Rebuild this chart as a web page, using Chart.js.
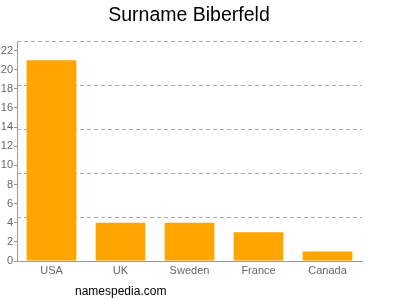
<!DOCTYPE html>
<html>
<head>
<meta charset="utf-8">
<script src="https://cdn.jsdelivr.net/npm/chart.js@4"></script>
<style>
  html, body { margin: 0; padding: 0; background: #fff; }
  #wrap { position: relative; width: 400px; height: 300px; }
  #titulo { position: absolute; left: 0; width: 378px; top: 3px; text-align: center;
    font: 19.5px "Liberation Sans", Arial, sans-serif; color: #000; }
  #site { position: absolute; left: 75px; top: 284px; font: 12px "Liberation Sans", Arial, sans-serif; color: #000; }
</style>
</head>
<body>
<div id="wrap">
  <canvas id="grafica" width="400" height="300"></canvas>
  <div id="titulo">Surname Biberfeld</div>
  <div id="site">namespedia.com</div>
</div>
<script>
const paises = ['USA', 'UK', 'Sweden', 'France', 'Canada'];
const cantidad = [21, 4, 4, 3, 1];
const marcasY = [0, 2, 4, 6, 8, 10, 12, 14, 16, 18, 20, 22];
const lineasGuia = [4.6, 9.2, 13.8, 18.4, 23];

// dashed guide lines, drawn through the y scale
const guias = {
  id: 'guias',
  beforeDatasetsDraw(chart) {
    const ctx = chart.ctx;
    const y = chart.scales.y;
    const area = chart.chartArea;
    ctx.save();
    ctx.setLineDash([4, 3]);
    ctx.lineWidth = 1;
    ctx.strokeStyle = '#aaa';
    lineasGuia.forEach(v => {
      const py = Math.round(y.getPixelForValue(v)) + 0.5;
      ctx.beginPath();
      ctx.moveTo(area.left, py);
      ctx.lineTo(area.right, py);
      ctx.stroke();
    });
    ctx.restore();
  }
};

const grafica = document.getElementById('grafica');
new Chart(grafica, {
  type: 'bar',
  data: {
    labels: paises,
    datasets: [{
      data: cantidad,
      backgroundColor: '#FFA500',
      barPercentage: 0.72,
      categoryPercentage: 1
    }]
  },
  options: {
    responsive: false,
    animation: false,
    layout: { padding: { left: 0, right: 38, top: 41, bottom: 17 } },
    plugins: {
      legend: { display: false },
      tooltip: { enabled: false },
      title: { display: false }
    },
    scales: {
      x: {
        grid: { display: false, tickLength: 0 },
        border: { color: '#999' },
        ticks: { color: '#666', font: { family: 'Liberation Sans', size: 11 }, padding: 3 },
        afterFit(s) { s.height = 22; }
      },
      y: {
        min: 0,
        max: 23,
        grid: { drawOnChartArea: false, tickLength: 3, color: '#999' },
        border: { color: '#999' },
        ticks: { color: '#666', font: { family: 'Liberation Sans', size: 11 }, padding: 1 },
        afterBuildTicks(s) { s.ticks = marcasY.map(v => ({ value: v })); },
        afterFit(s) { s.width = 17; }
      }
    }
  },
  plugins: [guias]
});
</script>
</body>
</html>
